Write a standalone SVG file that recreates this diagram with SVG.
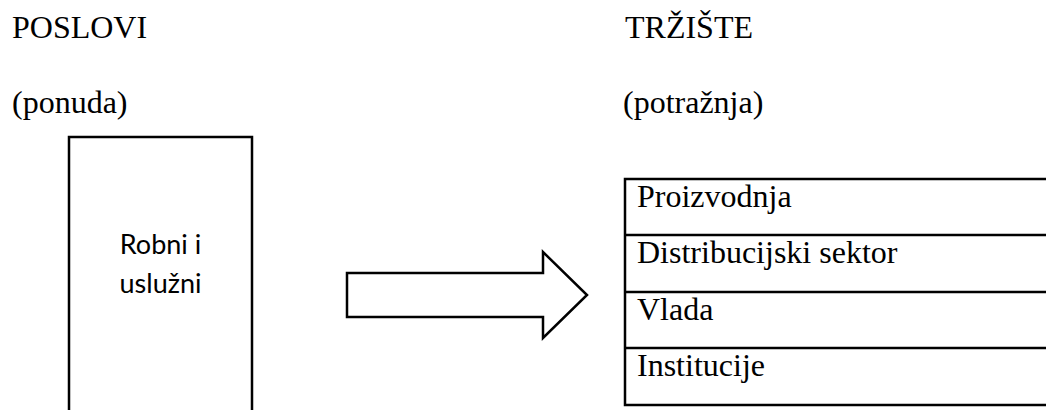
<svg xmlns="http://www.w3.org/2000/svg" width="1046" height="410" viewBox="0 0 1046 410">
<style>
.t{font-family:"Liberation Serif","Times New Roman",serif;font-size:32px;fill:#000}
.c{font-family:Lato,"Liberation Sans",sans-serif;font-size:27px;fill:#000;text-anchor:middle}
.s{fill:#fff;stroke:#000;stroke-width:2.5}
.l{stroke:#000;stroke-width:2.5;fill:none}
</style>
<rect width="1046" height="410" fill="#fff"/>
<g id="headings">
<text class="t" x="12" y="38">POSLOVI</text>
<text class="t" x="12" y="113">(ponuda)</text>
<text class="t" x="625" y="38">TRŽIŠTE</text>
<text class="t" x="623" y="113">(potražnja)</text>
</g>
<g id="supply">
<path class="l" d="M69,420 V137 H252 V420"/>
<text class="c" x="160.5" y="254">Robni i</text>
<text class="c" x="160.5" y="293">uslužni</text>
</g>
<g id="connectors">
<polygon class="s" points="347,273 543,273 543,252 587,295 543,338 543,317 347,317"/>
</g>
<g id="market">
<path class="l" d="M1050,179 H625 V405 H1050 M625,235 H1050 M625,292 H1050 M625,348 H1050"/>
<text class="t" x="637" y="207">Proizvodnja</text>
<text class="t" x="637" y="263">Distribucijski sektor</text>
<text class="t" x="637" y="320">Vlada</text>
<text class="t" x="637" y="376">Institucije</text>
</g>
</svg>
